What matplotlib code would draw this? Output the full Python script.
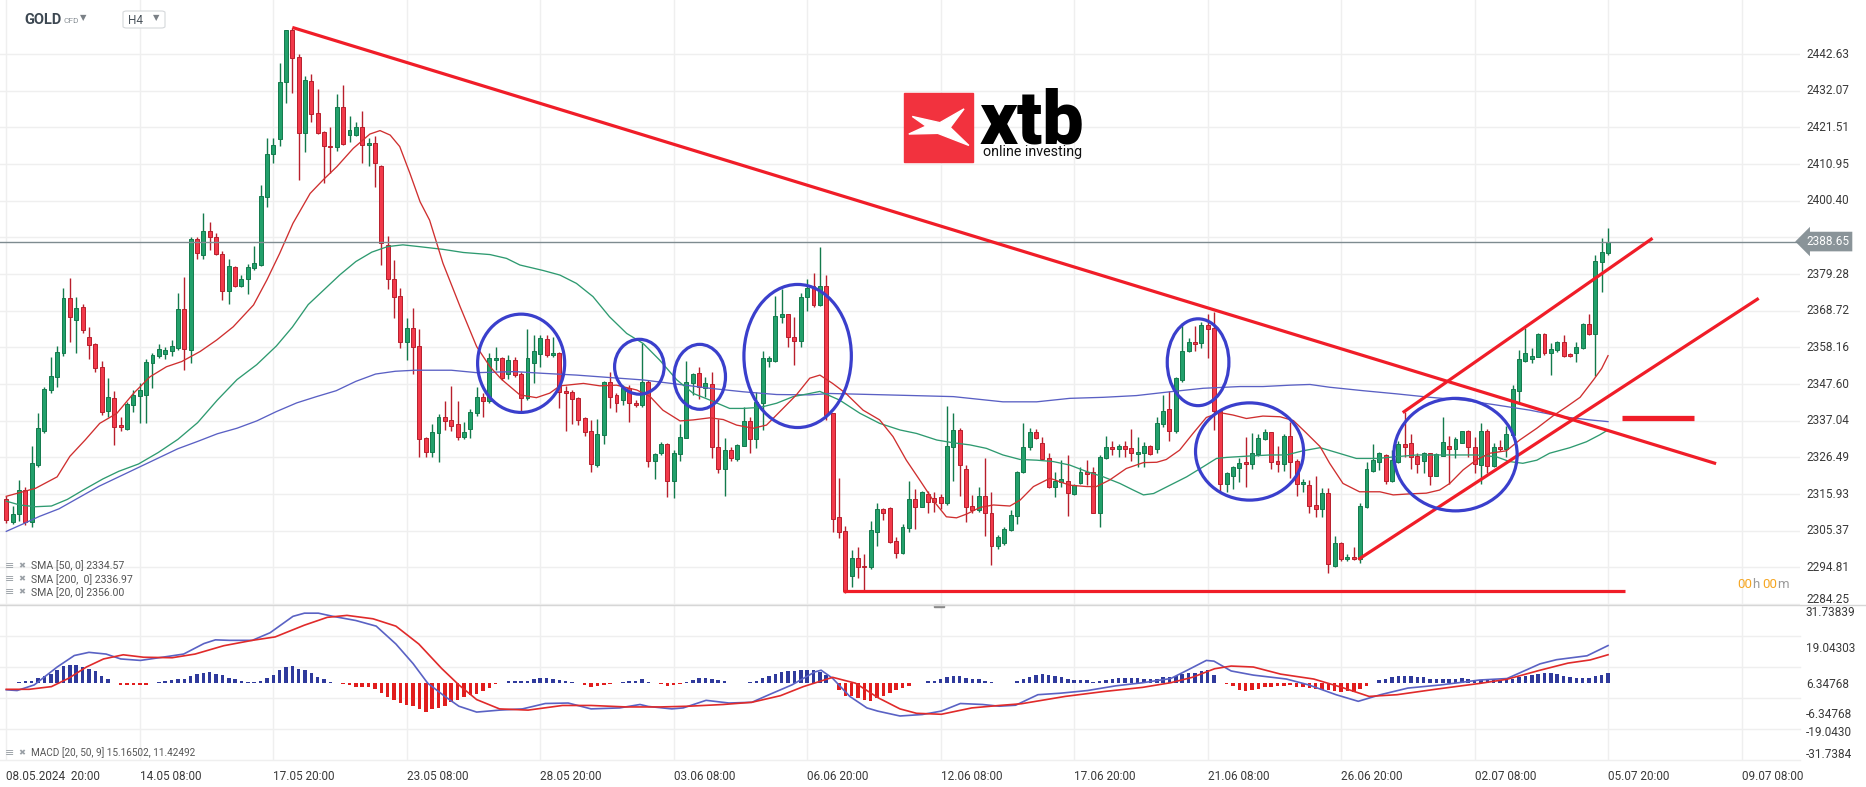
import numpy as np
import matplotlib
matplotlib.use("Agg")
import matplotlib.pyplot as plt
from matplotlib.patches import Ellipse, Polygon, Rectangle, FancyBboxPatch
from matplotlib.lines import Line2D
from matplotlib.transforms import blended_transform_factory

plt.rcParams['font.family'] = ['Roboto', 'DejaVu Sans']

W, H = 1866, 787

# ---- H4 candles, bar 0 = 08.05.2024 20:00 ----
opens = [2314.6, 2307.9, 2310.1, 2317.1, 2307.9, 2324.4, 2334.2, 2345.9, 2349.7, 2356.7,
         2372.3, 2366.2, 2369.7, 2361.1, 2359.1, 2352.4, 2339.9, 2343.7, 2335.8, 2334.7,
         2341.6, 2344.2, 2344.5, 2353.6, 2355.7, 2356.4, 2357.0, 2357.9, 2369.1, 2357.4,
         2389.3, 2384.7, 2391.7, 2390.0, 2385.2, 2374.5, 2381.2, 2375.9, 2377.8, 2380.9,
         2381.9, 2401.4, 2414.0, 2418.1, 2434.5, 2449.5, 2441.7, 2419.8, 2434.9, 2425.8,
         2420.3, 2416.3, 2415.9, 2427.4, 2419.3, 2419.3, 2421.7, 2416.4, 2417.1, 2410.4,
         2387.6, 2378.0, 2372.9, 2359.6, 2363.9, 2358.6, 2332.0, 2328.0, 2333.4, 2338.2,
         2337.4, 2336.0, 2332.3, 2334.7, 2339.2, 2343.8, 2342.8, 2354.5, 2355.2, 2350.5,
         2354.5, 2350.5, 2343.5, 2353.8, 2356.4, 2360.6, 2356.1, 2356.6, 2345.6, 2345.4,
         2343.5, 2337.7, 2334.1, 2324.3, 2332.9, 2348.3, 2344.5, 2343.0, 2346.4, 2342.1,
         2341.6, 2348.1, 2325.6, 2327.7, 2330.5, 2319.8, 2327.4, 2332.2, 2348.0, 2350.7,
         2346.6, 2347.6, 2329.6, 2323.3, 2328.6, 2326.0, 2329.9, 2337.1, 2331.8, 2342.3,
         2354.3, 2354.3, 2367.0, 2367.7, 2361.2, 2360.1, 2372.6, 2375.8, 2370.4, 2375.8,
         2339.2, 2309.2, 2305.4, 2292.3, 2297.4, 2295.3, 2294.8, 2305.1, 2311.7, 2311.8,
         2302.5, 2299.1, 2306.1, 2314.4, 2312.3, 2316.1, 2314.7, 2315.0, 2313.5, 2329.4,
         2334.4, 2323.3, 2312.6, 2311.3, 2315.4, 2310.6, 2301.0, 2301.9, 2305.6, 2309.6,
         2322.4, 2329.6, 2333.9, 2330.7, 2326.2, 2318.1, 2319.5, 2319.8, 2316.0, 2319.0,
         2322.4, 2322.2, 2310.6, 2326.4, 2329.6, 2329.0, 2329.8, 2329.1, 2327.4, 2327.7,
         2329.9, 2328.8, 2336.0, 2340.3, 2334.2, 2348.8, 2357.1, 2359.6, 2359.3, 2364.6,
         2363.9, 2339.9, 2318.7, 2321.1, 2323.4, 2325.1, 2324.6, 2327.5, 2331.7, 2333.7,
         2325.6, 2324.5, 2332.8, 2325.6, 2318.9, 2318.6, 2312.8, 2311.5, 2316.2, 2295.3,
         2301.8, 2297.2, 2297.7, 2297.2, 2312.3, 2322.7, 2325.3, 2327.2, 2319.8, 2325.3,
         2330.3, 2330.7, 2326.9, 2325.5, 2327.7, 2321.2, 2327.0, 2329.8, 2328.8, 2330.7,
         2334.1, 2329.6, 2324.3, 2334.1, 2324.0, 2329.6, 2328.8, 2333.0, 2345.7, 2354.3,
         2354.8, 2355.5, 2362.0, 2356.5, 2357.4, 2359.6, 2356.3, 2356.5, 2357.9, 2364.8,
         2362.0, 2382.7, 2385.3]
highs = [2315.5, 2312.5, 2320.0, 2318.0, 2329.8, 2339.2, 2346.9, 2355.5, 2358.6, 2375.2,
         2378.2, 2372.8, 2370.6, 2364.1, 2359.5, 2354.2, 2349.5, 2345.7, 2338.2, 2342.5,
         2345.9, 2348.0, 2354.8, 2356.7, 2359.1, 2358.4, 2360.3, 2373.7, 2378.5, 2390.0,
         2390.0, 2397.0, 2394.4, 2391.0, 2386.0, 2383.5, 2381.6, 2379.0, 2382.2, 2387.4,
         2404.9, 2418.6, 2418.6, 2440.2, 2449.7, 2450.0, 2442.6, 2436.3, 2436.9, 2432.7,
         2420.6, 2421.7, 2431.1, 2433.7, 2424.8, 2423.2, 2426.2, 2418.4, 2419.0, 2410.6,
         2390.2, 2383.3, 2375.2, 2366.7, 2369.4, 2363.4, 2332.3, 2336.1, 2338.9, 2342.8,
         2347.0, 2342.7, 2336.8, 2340.3, 2346.9, 2345.1, 2356.5, 2358.2, 2355.4, 2356.0,
         2355.3, 2351.0, 2363.6, 2361.7, 2361.7, 2361.7, 2361.2, 2356.8, 2347.0, 2345.9,
         2344.0, 2338.2, 2337.2, 2337.5, 2348.6, 2351.2, 2345.0, 2347.3, 2347.3, 2343.0,
         2359.3, 2348.8, 2327.8, 2330.8, 2330.6, 2328.6, 2336.1, 2354.3, 2350.7, 2352.6,
         2349.7, 2351.2, 2337.5, 2332.0, 2329.6, 2330.5, 2341.1, 2338.0, 2345.4, 2357.2,
         2355.7, 2373.0, 2374.9, 2367.9, 2367.0, 2373.7, 2377.8, 2379.5, 2387.2, 2379.0,
         2339.4, 2320.7, 2306.7, 2299.8, 2300.8, 2298.8, 2308.2, 2313.3, 2311.9, 2312.1,
         2303.5, 2307.3, 2319.7, 2317.3, 2316.9, 2316.9, 2316.6, 2316.0, 2341.3, 2339.4,
         2334.9, 2324.3, 2315.7, 2318.1, 2326.2, 2316.6, 2304.1, 2306.6, 2311.3, 2322.7,
         2336.3, 2335.1, 2334.6, 2332.3, 2327.7, 2322.4, 2325.7, 2327.2, 2318.7, 2323.8,
         2325.7, 2323.8, 2327.2, 2332.6, 2331.2, 2330.5, 2331.3, 2334.6, 2332.3, 2331.0,
         2330.1, 2338.2, 2344.5, 2345.7, 2349.7, 2365.1, 2360.8, 2364.3, 2365.6, 2367.7,
         2368.4, 2340.0, 2322.2, 2324.0, 2326.2, 2332.5, 2333.4, 2333.2, 2334.6, 2333.9,
         2329.8, 2333.2, 2336.6, 2326.0, 2320.2, 2320.0, 2321.1, 2317.6, 2317.6, 2304.0,
         2302.0, 2298.8, 2300.6, 2313.5, 2325.3, 2330.5, 2328.1, 2327.5, 2328.6, 2331.2,
         2339.7, 2333.2, 2327.9, 2328.1, 2327.9, 2327.9, 2338.0, 2332.7, 2332.3, 2334.2,
         2334.3, 2332.5, 2336.5, 2334.6, 2330.7, 2331.5, 2335.4, 2347.3, 2357.4, 2363.7,
         2357.9, 2362.4, 2362.2, 2359.4, 2360.1, 2361.7, 2356.6, 2359.8, 2365.1, 2367.8,
         2384.8, 2389.6, 2392.5]
lows = [2307.5, 2307.2, 2308.1, 2306.9, 2306.5, 2323.6, 2333.6, 2344.9, 2346.9, 2355.7,
        2359.8, 2356.5, 2362.2, 2354.7, 2351.2, 2338.7, 2338.2, 2330.0, 2334.0, 2334.4,
        2339.7, 2336.3, 2336.3, 2346.4, 2355.0, 2354.7, 2355.7, 2357.4, 2351.7, 2353.6,
        2383.5, 2383.7, 2386.2, 2384.8, 2371.8, 2370.7, 2375.6, 2375.6, 2373.5, 2380.5,
        2381.6, 2398.7, 2411.4, 2416.1, 2428.6, 2431.5, 2406.3, 2414.5, 2423.1, 2419.6,
        2405.6, 2408.5, 2414.8, 2416.5, 2417.3, 2419.0, 2411.3, 2410.4, 2404.4, 2381.9,
        2374.9, 2366.5, 2358.1, 2354.5, 2350.5, 2326.5, 2326.5, 2326.5, 2325.3, 2334.4,
        2334.2, 2331.5, 2331.8, 2332.0, 2338.5, 2338.0, 2342.3, 2351.6, 2348.8, 2349.0,
        2349.7, 2339.9, 2343.0, 2347.8, 2352.6, 2355.5, 2355.5, 2340.6, 2334.2, 2336.1,
        2335.8, 2332.7, 2322.4, 2323.8, 2330.5, 2340.6, 2339.7, 2341.6, 2336.8, 2341.1,
        2341.1, 2323.8, 2320.2, 2327.2, 2315.2, 2314.7, 2325.6, 2332.0, 2344.6, 2343.2,
        2344.0, 2326.4, 2321.9, 2315.4, 2325.6, 2325.6, 2329.8, 2327.9, 2329.3, 2334.4,
        2352.6, 2354.0, 2365.1, 2358.4, 2353.1, 2358.2, 2368.7, 2369.9, 2370.1, 2337.3,
        2305.1, 2303.2, 2287.5, 2289.3, 2291.9, 2288.3, 2294.5, 2301.0, 2308.5, 2301.8,
        2297.4, 2298.6, 2305.1, 2305.8, 2312.1, 2310.6, 2310.9, 2311.5, 2312.8, 2319.8,
        2315.4, 2308.0, 2310.6, 2310.9, 2303.9, 2295.5, 2300.0, 2301.3, 2305.3, 2307.3,
        2322.1, 2328.6, 2331.7, 2325.7, 2317.6, 2315.0, 2318.1, 2309.6, 2315.7, 2318.8,
        2318.5, 2310.4, 2306.4, 2325.9, 2327.2, 2326.5, 2326.5, 2325.6, 2323.6, 2323.6,
        2327.2, 2327.7, 2335.3, 2331.3, 2333.4, 2348.3, 2356.9, 2357.1, 2357.9, 2355.0,
        2334.4, 2316.9, 2316.6, 2317.3, 2319.5, 2318.1, 2323.1, 2326.9, 2331.5, 2323.1,
        2322.4, 2322.7, 2320.5, 2315.4, 2316.6, 2310.4, 2309.4, 2309.4, 2293.3, 2295.0,
        2296.8, 2296.7, 2297.0, 2296.2, 2311.8, 2322.4, 2322.9, 2318.8, 2319.5, 2325.0,
        2326.7, 2323.1, 2321.9, 2321.9, 2318.5, 2321.0, 2326.9, 2318.7, 2326.2, 2330.6,
        2326.7, 2321.9, 2318.8, 2321.9, 2323.8, 2328.4, 2326.7, 2332.7, 2342.3, 2354.1,
        2353.6, 2355.3, 2356.0, 2350.2, 2356.9, 2355.5, 2355.5, 2354.1, 2357.6, 2361.7,
        2350.0, 2374.2, 2384.8]
closes = [2308.5, 2310.3, 2317.1, 2307.9, 2324.9, 2335.1, 2346.1, 2350.0, 2356.9, 2372.3,
          2367.0, 2369.4, 2363.2, 2358.9, 2352.1, 2339.7, 2344.0, 2335.3, 2335.2, 2341.8,
          2344.6, 2345.9, 2353.9, 2356.0, 2357.6, 2357.4, 2358.6, 2369.1, 2357.6, 2389.4,
          2385.4, 2391.7, 2389.9, 2385.0, 2374.5, 2381.6, 2375.8, 2378.0, 2381.2, 2382.4,
          2401.8, 2414.0, 2416.4, 2434.5, 2449.5, 2441.4, 2419.8, 2435.3, 2425.5, 2420.0,
          2416.1, 2415.8, 2427.4, 2416.7, 2420.9, 2421.7, 2416.4, 2417.1, 2411.2, 2388.1,
          2378.0, 2372.6, 2359.6, 2363.9, 2358.4, 2331.7, 2328.1, 2333.7, 2338.2, 2337.1,
          2335.6, 2332.3, 2333.7, 2339.5, 2343.8, 2342.8, 2355.2, 2355.2, 2349.5, 2354.5,
          2350.2, 2343.5, 2355.2, 2357.1, 2361.0, 2356.0, 2356.7, 2345.2, 2344.9, 2343.2,
          2337.4, 2333.7, 2324.5, 2333.1, 2348.3, 2344.0, 2342.3, 2346.4, 2342.1, 2341.6,
          2348.1, 2325.6, 2327.4, 2330.5, 2319.8, 2327.7, 2332.5, 2348.3, 2350.5, 2346.8,
          2347.8, 2329.4, 2323.3, 2328.6, 2326.4, 2330.1, 2337.1, 2331.8, 2342.5, 2355.0,
          2355.0, 2367.3, 2367.7, 2361.1, 2360.1, 2372.8, 2375.4, 2370.4, 2375.8, 2338.7,
          2308.9, 2304.9, 2288.0, 2297.4, 2295.0, 2294.8, 2305.6, 2311.5, 2310.4, 2302.2,
          2299.1, 2306.4, 2314.4, 2312.3, 2316.4, 2313.7, 2313.7, 2313.5, 2329.8, 2334.4,
          2324.3, 2312.3, 2311.3, 2315.4, 2310.6, 2301.0, 2303.5, 2305.8, 2309.9, 2322.4,
          2329.6, 2333.9, 2332.0, 2326.0, 2318.1, 2319.8, 2320.3, 2316.2, 2318.5, 2322.4,
          2321.7, 2310.6, 2326.7, 2329.6, 2328.8, 2329.8, 2328.8, 2327.7, 2328.0, 2329.9,
          2327.4, 2336.3, 2339.9, 2334.2, 2349.3, 2357.2, 2359.6, 2359.1, 2364.6, 2363.4,
          2339.9, 2318.7, 2321.9, 2323.6, 2325.0, 2324.5, 2327.9, 2332.0, 2333.9, 2325.3,
          2324.5, 2332.8, 2325.3, 2318.9, 2319.4, 2312.5, 2311.5, 2316.2, 2295.8, 2301.8,
          2297.2, 2297.7, 2297.2, 2312.5, 2323.1, 2325.7, 2327.7, 2319.8, 2325.7, 2330.4,
          2329.6, 2326.5, 2324.6, 2327.7, 2321.2, 2327.4, 2331.0, 2328.8, 2331.7, 2334.1,
          2329.4, 2324.6, 2334.1, 2324.0, 2329.4, 2328.8, 2333.2, 2346.1, 2354.7, 2356.6,
          2355.8, 2362.0, 2356.5, 2357.6, 2359.6, 2355.8, 2355.7, 2358.2, 2364.8, 2362.0,
          2383.0, 2385.7, 2388.65]

# moving averages as (bar, value)
sma20 = [(0, 2315.3), (4.6, 2317.6), (8, 2320.9), (10, 2326.8), (12.4, 2331.5), (14.7, 2336.3),
         (17.4, 2339.2), (20, 2344.9), (22.6, 2349.7), (25.2, 2352.6), (27.6, 2354.1), (30.5, 2357.0),
         (33.1, 2360.3), (35.7, 2364.1), (38.9, 2370.4), (41, 2377.6), (43, 2385.2), (45.1, 2393.9),
         (47.8, 2402.5), (49.9, 2406.5), (52, 2410.2), (54.6, 2415.5), (57.2, 2419.6), (58.8, 2420.6),
         (60.4, 2419.3), (61.9, 2416.0), (63.5, 2408.3), (65.1, 2400.1), (66.6, 2394.8), (68.7, 2382.4),
         (71.4, 2369.9), (74, 2358.4), (76.1, 2352.6), (77.9, 2349.0), (80.8, 2344.5), (83.4, 2343.7),
         (85.5, 2345.0), (87.1, 2347.1), (90.8, 2347.8), (93.4, 2347.1), (96, 2347.3), (99.2, 2345.9),
         (101.3, 2344.0), (103.3, 2340.1), (106, 2337.0), (108.1, 2337.3), (110.7, 2337.9), (112.8, 2337.4),
         (114.9, 2335.8), (117.5, 2334.9), (119.6, 2335.8), (122.2, 2340.6), (124.3, 2344.5), (126.4, 2349.3),
         (128, 2350.2), (130, 2347.8), (132.1, 2344.9), (134.8, 2340.1), (137.4, 2337.3), (139.5, 2332.5),
         (141.6, 2325.7), (143.7, 2320.0), (145.8, 2314.2), (147.9, 2309.4), (149.5, 2309.1), (151.1, 2310.2),
         (153.2, 2312.1), (155.3, 2312.8), (157.9, 2312.5), (159.5, 2314.2), (161.6, 2318.1), (164.2, 2320.5),
         (167.3, 2318.5), (170, 2318.1), (171.5, 2318.1), (173.6, 2320.0), (176.2, 2323.3), (178.9, 2325.0),
         (181, 2325.1), (182.5, 2325.9), (184.6, 2328.6), (186.7, 2333.4), (188.8, 2338.0), (190.9, 2339.4),
         (193, 2338.7), (195.1, 2337.7), (197.7, 2338.4), (200.4, 2338.2), (202.5, 2337.1), (204.6, 2333.4),
         (206.7, 2329.6), (208.2, 2324.8), (210.3, 2319.0), (212.9, 2316.6), (216.1, 2316.6), (218.2, 2315.7),
         (220.8, 2316.0), (223.4, 2316.2), (225.5, 2317.1), (227.1, 2319.0), (229.2, 2322.9), (231.3, 2325.8),
         (233.4, 2327.7), (236, 2328.4), (238.1, 2331.5), (240.8, 2334.9), (243.3, 2338.4), (245.5, 2341.1),
         (247.6, 2343.8), (249.7, 2348.8), (251, 2352.1), (252, 2355.8)]
sma50 = [(0, 2313.9), (2.1, 2312.8), (4.6, 2312.3), (7.1, 2312.5), (9.6, 2314.4), (12.1, 2317.1),
         (15.2, 2320.3), (17.7, 2322.5), (20.8, 2324.6), (23.9, 2327.9), (27, 2331.7), (30.1, 2336.5),
         (33.2, 2343.0), (36.3, 2348.9), (39.4, 2353.2), (42.5, 2358.6), (45, 2364.0), (47.5, 2370.5),
         (50, 2374.8), (52.5, 2379.1), (55, 2382.9), (57.5, 2385.6), (60, 2387.2), (62.4, 2387.7),
         (64.9, 2387.2), (68.7, 2386.4), (71.9, 2385.5), (76.1, 2384.9), (78.7, 2383.8), (80.8, 2381.9),
         (84.5, 2380.3), (87.1, 2379.0), (89.7, 2376.6), (92.3, 2372.8), (94.9, 2367.0), (97.6, 2362.2),
         (100.2, 2359.3), (102.8, 2354.5), (105.5, 2348.8), (108.1, 2344.9), (110.7, 2343.0), (113.8, 2340.6),
         (115.9, 2340.6), (118.6, 2340.9), (121.2, 2342.1), (123.8, 2344.0), (126.4, 2344.9), (128, 2345.5),
         (131.1, 2343.0), (134.3, 2339.2), (137.4, 2336.3), (140.6, 2334.4), (143.2, 2333.4), (146.4, 2331.5),
         (149, 2330.7), (151.6, 2330.1), (154.2, 2329.1), (156.8, 2327.2), (159.5, 2325.9), (162.1, 2325.7),
         (164.7, 2325.3), (167.3, 2324.3), (170, 2322.4), (172.6, 2320.9), (175.2, 2319.0), (177.3, 2317.1),
         (178.9, 2315.7), (180.5, 2316.1), (183.1, 2318.5), (185.7, 2320.9), (188.3, 2323.8), (190.4, 2326.2),
         (192, 2326.5), (195.6, 2326.9), (198.8, 2327.2), (201.4, 2327.2), (204, 2328.4), (206.7, 2329.3),
         (209.3, 2327.9), (212.4, 2326.2), (215.6, 2326.2), (218.7, 2326.7), (221.9, 2327.2), (225, 2327.2),
         (228.2, 2327.2), (231.3, 2327.2), (234.4, 2326.7), (236.5, 2325.3), (238.6, 2324.8), (240.8, 2325.7),
         (242.8, 2327.7), (246, 2329.3), (248.6, 2331.0), (250.7, 2333.0), (252, 2334.4)]
sma200 = [(0, 2305.2), (2.7, 2307.4), (5.2, 2309.5), (8.3, 2311.7), (11.4, 2314.9), (14.6, 2318.2),
          (17.7, 2320.9), (20.8, 2323.6), (23.9, 2326.3), (27, 2329.0), (30.1, 2331.1), (33.2, 2333.3),
          (36.3, 2334.9), (39.4, 2337.0), (42.5, 2339.7), (45.7, 2342.2), (48.8, 2344.0), (51.9, 2345.7),
          (55, 2348.4), (58.1, 2350.5), (61.2, 2351.3), (64.3, 2351.6), (70, 2351.6), (74, 2350.9),
          (80, 2351.2), (84.5, 2350.7), (89.7, 2350.2), (94.9, 2349.5), (100.2, 2348.8), (105.5, 2347.6),
          (110.7, 2346.4), (115.9, 2345.4), (121.2, 2344.6), (126.4, 2344.5), (129.6, 2344.9), (138.5, 2344.5),
          (149, 2344.0), (156.8, 2342.5), (162.1, 2342.5), (167.3, 2343.5), (172.6, 2343.8), (177.8, 2344.3),
          (183.1, 2345.4), (188.3, 2346.4), (194.1, 2346.9), (197.7, 2346.9), (202, 2347.3), (205.1, 2347.5),
          (208.2, 2346.7), (213.5, 2345.7), (218.7, 2344.8), (224, 2343.8), (229.2, 2343.0), (234.4, 2341.6),
          (239.7, 2340.1), (244.9, 2338.2), (249.1, 2337.3), (252, 2336.8)]

# MACD [20, 50, 9]
macd_line = [(0, -2.9), (1.7, -3.2), (4.4, -0.9), (8, 6.4), (10.7, 11.1), (13, 12.4), (15.7, 11.7),
             (18, 9.7), (21.1, 9.1), (25.6, 10.8), (27.9, 11.7), (31.1, 16.0), (32.9, 17.5), (35.1, 17.3),
             (38.7, 17.3), (41.5, 20.4), (45.1, 27.1), (46.9, 28.4), (49.1, 28.4), (51.4, 27.1), (55, 25.4),
             (58.2, 23.1), (61.3, 15.8), (64, 7.8), (66.3, -0.2), (69, -5.6), (71.2, -9.6), (74, -12.0),
             (77.6, -11.2), (81.2, -10.7), (84.8, -8.5), (88.4, -8.3), (92, -10.7), (96.5, -10.3),
             (99.7, -8.9), (101, -9.7), (104.7, -10.7), (106.5, -10.3), (110.1, -7.2), (113.7, -8.3),
             (117.3, -8.0), (120, -4.9), (123.6, -0.9), (127.2, 4.4), (128.2, 5.1), (130, 1.8),
             (132.7, -5.6), (135.4, -10.3), (137.1, -11.6), (140.6, -13.6), (144.1, -13.0), (147.1, -11.6),
             (150.1, -8.5), (153.6, -8.9), (156.2, -9.6), (158.8, -9.2), (162.3, -4.9), (165.8, -4.3),
             (170.1, -3.2), (174.5, -1.3), (178.8, 0.0), (183.2, 1.7), (185.8, 5.1), (188.8, 9.1),
             (190, 8.8), (192.7, 4.8), (196.2, 3.1), (201.4, 1.5), (204.9, -0.9), (209.2, -4.9),
             (212.7, -7.6), (216.2, -4.9), (220.5, -2.2), (225.7, -0.9), (231.8, 1.1), (236.1, 1.7),
             (241.3, 7.7), (243.9, 9.4), (248.7, 11.0), (252, 15.17)]
signal_line = [(0, -2.7), (3.6, -2.7), (7.1, -1.6), (9.8, 1.8), (12.6, 6.4), (15.3, 9.7), (18.4, 11.4),
               (21.6, 10.4), (26.1, 10.2), (29.7, 11.7), (34.2, 15.1), (38.7, 17.3), (42.3, 18.7),
               (46.9, 23.5), (50.5, 26.7), (53.6, 27.5), (57.7, 26.1), (61.3, 23.1), (64.9, 15.8),
               (68.5, 5.8), (71.2, -0.9), (74, -6.9), (77.6, -10.7), (82.1, -11.2), (87.5, -9.3),
               (92, -9.3), (97.5, -9.9), (102.9, -9.9), (107.4, -9.6), (112.8, -8.9), (117.3, -8.0),
               (121.8, -5.3), (125.4, -1.6), (130, 2.2), (133.6, -0.2), (137.2, -6.2), (140.6, -10.7),
               (143.2, -12.5), (147.1, -12.9), (151.9, -10.3), (156.2, -9.3), (159.7, -8.6), (166.6, -5.6),
               (172.7, -3.6), (178.8, -1.9), (183.2, 0.0), (186.6, 2.2), (190.1, 5.7), (192.7, 6.8),
               (196.2, 6.4), (200.5, 3.5), (205.7, 1.5), (210.1, -1.9), (214.4, -5.6), (218.8, -4.9),
               (224.8, -2.7), (231.8, -0.3), (236.1, 1.4), (241.3, 5.1), (245.7, 8.0), (249.2, 9.3),
               (252, 11.42)]
macd_hist = [0, 0, 0.4, 0.67, 0.67, 1.73, 2.67, 3.73, 5.33, 6.67,
             7.07, 7.33, 6.4, 5.73, 4.67, 2.67, 1.33, 0, -0.93, -1.07,
             -1.07, -1.07, -0.93, 0, 0.4, 0.67, 1.07, 1.33, 1.47, 2.67,
             3.47, 4.0, 4.27, 3.73, 3.07, 2.0, 1.33, 0.67, 0.4, 0.4,
             0.67, 1.73, 3.07, 5.07, 6.4, 6.67, 5.73, 5.07, 4.0, 2.4,
             1.33, 0.4, 0, -0.67, -1.07, -1.6, -1.87, -1.87, -2.67, -4.27,
             -5.87, -6.93, -8.27, -8.93, -9.6, -10.93, -12.0, -10.93, -10.27, -9.33,
             -8.0, -6.93, -5.87, -4.93, -4.53, -3.33, -2.0, -0.67, 0, 0.67,
             0.67, 0.8, 0.8, 1.6, 1.87, 1.87, 1.6, 1.07, 0.8, 0.4,
             0, -0.93, -1.6, -1.33, -0.93, -0.53, 0, 0.4, 0.67, 0.8,
             1.33, 0.4, 0, -0.53, -1.2, -0.93, -0.67, 0.4, 1.07, 1.73,
             2.0, 1.47, 1.07, 0.53, 0, 0, 0, 0.27, 0.8, 1.73,
             2.67, 3.73, 4.4, 4.67, 4.67, 5.07, 5.07, 5.07, 4.4, 3.07,
             0, -2.93, -5.6, -5.6, -6.27, -6.93, -7.6, -6.27, -5.6, -4.27,
             -2.93, -2.27, -1.33, -0.27, 0, 0.67, 0.67, 1.33, 2.13, 2.93,
             2.67, 2.0, 1.47, 1.33, 0.8, 0.27, -0.27, -0.27, -0.27, 0.67,
             1.33, 2.4, 3.07, 3.47, 3.07, 2.67, 2.13, 1.33, 1.07, 1.07,
             1.07, 0.4, 0.67, 1.07, 1.47, 1.73, 1.73, 1.73, 1.73, 1.47,
             1.33, 1.6, 2.13, 2.13, 2.67, 3.47, 4.13, 4.13, 4.8, 5.07,
             3.07, 0, -0.53, -1.5, -2.93, -3.2, -2.93, -2.67, -1.87, -1.6,
             -1.33, -1.2, -0.93, -1.6, -1.87, -2.27, -2.67, -2.93, -2.93, -3.33,
             -3.6, -3.33, -3.6, -2.67, -1.33, 0, 1.07, 1.33, 2.13, 2.67,
             2.67, 2.67, 2.4, 2.13, 1.6, 1.6, 1.6, 1.6, 1.6, 1.87,
             1.33, 1.07, 1.07, 1.07, 1.07, 1.07, 1.33, 1.6, 2.13, 2.67,
             3.2, 3.73, 4.0, 4.0, 3.47, 2.93, 2.13, 1.87, 1.87, 1.87,
             2.67, 3.07, 4.0]

price_ticks = [2284.25, 2294.81, 2305.37, 2315.93, 2326.49, 2337.04, 2347.60, 2358.16,
               2368.72, 2379.28, 2389.84, 2400.40, 2410.95, 2421.51, 2432.07, 2442.63]
hidden_tick = 2389.84
macd_range = 31.73839
macd_grid = [-31.74, -19.04, -6.35, 6.35, 19.04]
macd_labels = ["31.73839", "19.04303", "6.34768", "-6.34768", "-19.0430", "-31.7384"]
macd_label_px = [613, 649, 685, 715, 733, 754]
date_labels = ["08.05.2024  20:00", "14.05 08:00", "17.05 20:00", "23.05 08:00", "28.05 20:00",
               "03.06 08:00", "06.06 20:00", "12.06 08:00", "17.06 20:00", "21.06 08:00",
               "26.06 20:00", "02.07 08:00", "05.07 20:00", "09.07 08:00"]
bars_per_label = 21
last_price = 2388.65

# hand drawn annotations (bar, price)
trend_lines = [[(45, 2450.3), (269, 2324.7)],
               [(131.7, 2288.0), (254.6, 2288.0)],
               [(212.7, 2297.1), (275.7, 2372.3)],
               [(219.7, 2339.4), (259.0, 2389.6)]]
level_mark = [(254.2, 2337.8), (265.6, 2337.8)]
circles = [(81.0, 2353.6, 13.7, 28.3), (99.6, 2352.6, 7.8, 15.8), (109.1, 2349.7, 8.1, 18.7),
           (124.5, 2355.7, 16.9, 41.2), (187.5, 2353.9, 9.7, 25.0), (195.6, 2328.2, 17.0, 28.0),
           (228.0, 2327.3, 19.4, 32.4)]

GREEN, GREEN_E = '#22a06b', '#137a4c'
RED, RED_E = '#f2394a', '#b81f2c'
GRID = '#efefef'


def fx(px):
    return px / W


def fy(py):
    return 1 - py / H


fig = plt.figure(figsize=(W / 100, H / 100), dpi=100)
fig.patch.set_facecolor('white')
ax = fig.add_axes([0, fy(605), 1800 / W, 605 / H])
axm = fig.add_axes([0, fy(760.4), 1800 / W, 155.4 / H])

xmin, xmax = -0.99, 282.2
for a in (ax, axm):
    a.set_xlim(xmin, xmax)
    a.set_xticks([])
    a.set_yticks([])
    for s in a.spines.values():
        s.set_visible(False)
    for k in range(len(date_labels)):
        a.axvline(k * bars_per_label, color=GRID, lw=1, zorder=0)

ax.set_ylim(2284.0, 2458.2)
axm.set_ylim(-macd_range, macd_range)

# ---- main panel ----
for t in price_ticks:
    ax.axhline(t, color=GRID, lw=1, zorder=0)

idx = np.arange(len(opens))
o = np.array(opens)
c = np.array(closes)
up = c >= o
face = np.where(up, GREEN, RED)
edge = np.where(up, GREEN_E, RED_E)
ax.vlines(idx, lows, highs, colors=edge, lw=1.0, zorder=2)
body = np.maximum(np.abs(c - o), 0.35)
ax.bar(idx, body, bottom=np.minimum(o, c), width=0.62, color=face, edgecolor=edge,
       linewidth=0.7, zorder=3)

for pts, col in ((sma200, '#5a60c4'), (sma50, '#2e9a70'), (sma20, '#cf2f2f')):
    xs, ys = zip(*pts)
    ax.plot(xs, ys, color=col, lw=0.95, zorder=4)

ax.axhline(last_price, color='#7e8b90', lw=1, zorder=4)

for ln in trend_lines:
    xs, ys = zip(*ln)
    ax.plot(xs, ys, color='#f01d28', lw=2.3, solid_capstyle='butt', zorder=6)
xs, ys = zip(*level_mark)
ax.plot(xs, ys, color='#f01d28', lw=3.8, solid_capstyle='butt', zorder=6)

for cx, cy, w, h in circles:
    ax.add_patch(Ellipse((cx, cy), w, h, fill=False, ec='#3a3fcc', lw=2.3, zorder=6))

yt = blended_transform_factory(ax.transAxes, ax.transData)
lab_x = 1806 / 1800
for t in price_ticks:
    if t == hidden_tick:
        continue
    yy = t + 1.4 if t == price_ticks[0] else t
    ax.text(lab_x, yy, f"{t:.2f}", transform=yt, fontsize=8.5, color='#3a3a3a',
            va='center', ha='left', clip_on=False)
ax.text(lab_x, last_price, f"{last_price:.2f}", transform=yt, fontsize=8.5, color='white',
        va='center', ha='left', clip_on=False,
        bbox=dict(boxstyle='larrow,pad=0.28', fc='#8a9499', ec='none'))

# ---- MACD panel ----
hist = np.array(macd_hist)
axm.bar(idx, hist, width=0.55, color=np.where(hist >= 0, '#2f3a9c', '#e11d1d'), zorder=2)
for g in macd_grid:
    axm.axhline(g, color=GRID, lw=1, zorder=0, clip_on=False)
xs, ys = zip(*macd_line)
axm.plot(xs, ys, color='#5a62c4', lw=1.2, zorder=3)
xs, ys = zip(*signal_line)
axm.plot(xs, ys, color='#e02a2a', lw=1.2, zorder=3)
for lab, py in zip(macd_labels, macd_label_px):
    fig.text(fx(1806), fy(py), lab, fontsize=8.5, color='#3a3a3a', va='center', ha='left')

# x labels
xt = blended_transform_factory(axm.transData, fig.transFigure)
for k, lab in enumerate(date_labels):
    axm.text(k * bars_per_label, fy(777), lab, transform=xt, fontsize=8.5, color='#3a3a3a',
             va='center', ha='left', clip_on=False)

# panel separator and small marker
fig.add_artist(Line2D([0, 1], [fy(605), fy(605)], color='#d6d6d6', lw=1))
fig.add_artist(Rectangle((fx(934), fy(606.5)), 10 / W, 2 / H, color='#8a8a8a'))

# ---- header ----
fig.text(fx(24), fy(20), "GOLD", fontsize=10.5, fontweight='bold', color='#3d4852', va='center')
fig.text(fx(64), fy(21), "CFD", fontsize=6, color='#8b9298', va='center')
fig.text(fx(80), fy(18), "▼", fontsize=6, color='#7a8086', va='center')
fig.add_artist(FancyBboxPatch((fx(123), fy(28)), 42 / W, 17 / H,
                              boxstyle='round,pad=0,rounding_size=0.002',
                              fc='white', ec='#d5d8db', lw=0.8))
fig.text(fx(128), fy(20), "H4", fontsize=8.5, color='#4a535b', va='center')
fig.text(fx(153), fy(18), "▼", fontsize=6, color='#7a8086', va='center')

# ---- logo ----
fig.add_artist(Rectangle((fx(904), fy(162)), 69 / W, 69 / H, color='#f2323e'))
mark = [(0.12, 0.34), (0.52, 0.43), (0.87, 0.23), (0.67, 0.50), (0.94, 0.76),
        (0.49, 0.585), (0.07, 0.595), (0.32, 0.48)]
fig.add_artist(Polygon([(fx(904 + 69 * u), fy(93 + 69 * v)) for u, v in mark],
                       closed=True, color='white'))
fig.text(fx(980), fy(143), "xtb", fontsize=53, fontweight='heavy', color='black', va='baseline')
fig.text(fx(983), fy(152), "online investing", fontsize=10.3, color='#111111', va='center')

# ---- legends ----
legend_rows = ["SMA [50, 0] 2334.57", "SMA [200,  0] 2336.97", "SMA [20, 0] 2356.00"]
for k, txt in enumerate(legend_rows):
    yy = fy(566 + 13.2 * k)
    fig.text(fx(5), yy, "≡", fontsize=8, color='#9aa0a6', va='center')
    fig.text(fx(18), yy, "✖", fontsize=6, color='#9aa0a6', va='center')
    fig.text(fx(31), yy, txt, fontsize=7.6, color='#555555', va='center')
fig.text(fx(5), fy(753), "≡", fontsize=8, color='#9aa0a6', va='center')
fig.text(fx(18), fy(753), "✖", fontsize=6, color='#9aa0a6', va='center')
fig.text(fx(31), fy(753), "MACD [20, 50, 9] 15.16502, 11.42492", fontsize=7.2, color='#555555',
         va='center')

# countdown
fig.text(fx(1737), fy(584), "00", fontsize=9.5, color='#f5a623', va='center')
fig.text(fx(1752), fy(584), "h", fontsize=9.5, color='#9a9a9a', va='center')
fig.text(fx(1762), fy(584), "00", fontsize=9.5, color='#f5a623', va='center')
fig.text(fx(1777), fy(584), "m", fontsize=9.5, color='#9a9a9a', va='center')

fig.savefig("out.png", dpi=100)
